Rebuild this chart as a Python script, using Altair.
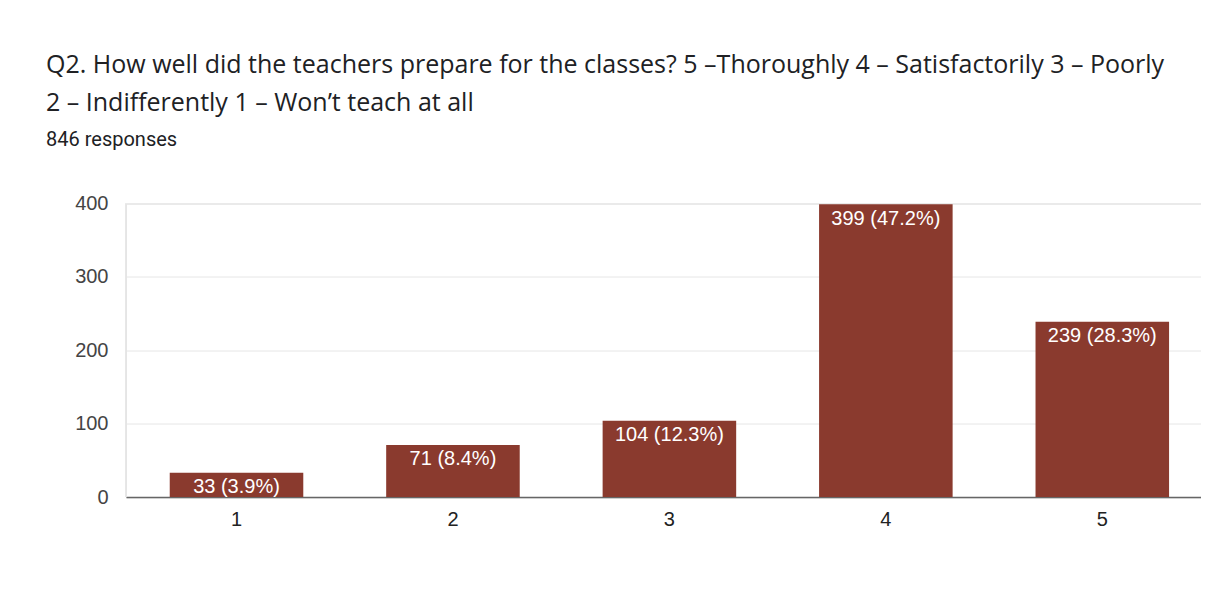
import altair as alt
import pandas as pd

categories = ["1", "2", "3", "4", "5"]
counts = [33, 71, 104, 399, 239]
percents = ["3.9", "8.4", "12.3", "47.2", "28.3"]

df = pd.DataFrame({
    "answer": categories,
    "count": counts,
    "label": [f"{c} ({p}%)" for c, p in zip(counts, percents)],
})

BAR = "#8a3a2e"

x_enc = alt.X(
    "answer:N",
    sort=categories,
    scale=alt.Scale(paddingInner=0.383, paddingOuter=0.1748, align=0.578),
    axis=alt.Axis(
        title=None, labelAngle=0, labelFont="Liberation Sans", labelFontSize=20,
        labelColor="#222222", labelPadding=12, ticks=False,
        domainColor="#666666", domainWidth=1.5, grid=False,
    ),
)

bars = alt.Chart(df).mark_bar(color=BAR).encode(
    x=x_enc,
    y=alt.Y(
        "count:Q",
        scale=alt.Scale(domain=[0, 400], nice=False),
        axis=alt.Axis(
            title=None,
            values=[0, 50, 100, 150, 200, 250, 300, 350, 400],
            labelExpr="datum.value % 100 == 0 ? datum.label : ''",
            labelFont="Liberation Sans", labelFontSize=20, labelColor="#444444",
            labelPadding=18, ticks=False, domain=False,
            gridColor={"condition": {"test": "datum.value % 100 == 0", "value": "#e6e6e6"}, "value": "#f3f3f3"},
            gridWidth=1,
        ),
    ),
)

left_line = alt.Chart(df).mark_rule(color="#e6e6e6", strokeWidth=1).encode(
    x=alt.value(0), y=alt.value(0), y2=alt.value(293.5)
)

texts = alt.Chart(df).mark_text(
    color="white", font="Liberation Sans", fontSize=20, baseline="top", dy=4.5, align="center"
).encode(
    x=alt.X("answer:N", sort=categories),
    y=alt.Y("count:Q"),
    text="label:N",
)

chart = alt.layer(left_line, bars, texts).properties(
    width=1075,
    height=293.5,
    title=alt.TitleParams(
        text=[
            "Q2. How well did the teachers prepare for the classes? 5 –Thoroughly 4 – Satisfactorily 3 – Poorly",
            "2 – Indifferently 1 – Won’t teach at all",
        ],
        subtitle="846 responses",
        anchor="start", frame="group", orient="top",
        font="Open Sans", fontSize=25, fontWeight="normal", color="#202124", lineHeight=38,
        subtitleFont="Roboto", subtitleFontSize=20, subtitleColor="#202124", subtitlePadding=14,
        dx=-80, offset=44,
    ),
    autosize=alt.AutoSizeParams(type="none"),
    padding={"left": 118, "top": 195.5, "right": 0, "bottom": 100},
).configure_view(stroke=None).configure(background="white")

chart.save("out.html", embed_options={"renderer": "svg", "actions": False})
